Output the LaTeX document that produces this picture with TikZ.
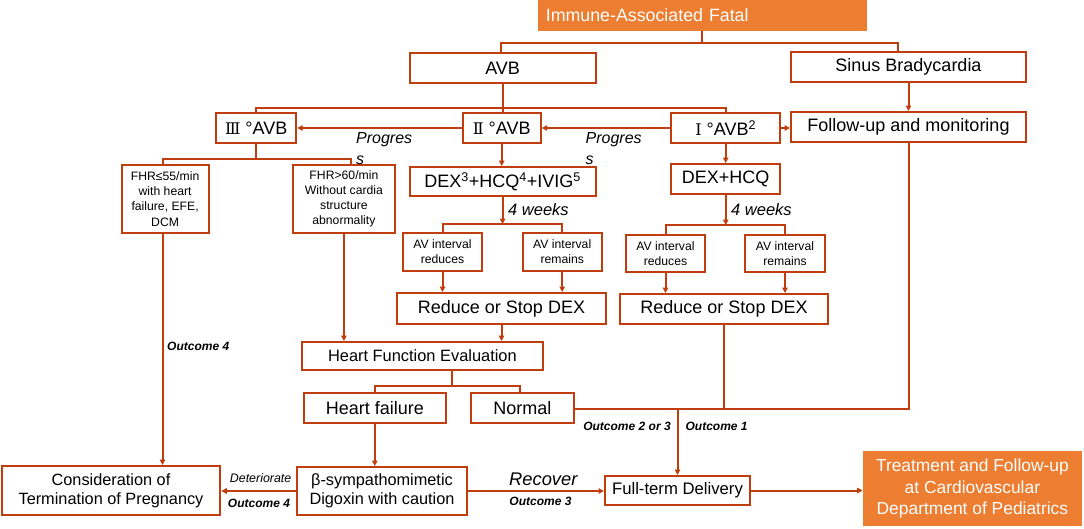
\documentclass[tikz,border=0pt]{standalone}
\usepackage{fontspec}
\setmainfont{Liberation Sans}
\newfontfamily\romfont{DejaVu Serif}
\usetikzlibrary{arrows.meta}
\definecolor{lc}{RGB}{192,62,14}
\definecolor{og}{RGB}{237,125,49}
\newcommand{\fs}[2]{\fontsize{#1}{#2}\selectfont}
\begin{document}
\begin{tikzpicture}[x=1pt,y=-1pt,
  box/.style={draw=lc, line width=2pt, fill=white, inner sep=0pt, align=center, font=\fs{18}{21}},
  sbox/.style={font=\fs{12.2}{15.2}},
  mbox/.style={font=\fs{16.3}{19}},
  obox/.style={fill=og, inner sep=0pt, align=center, text=white},
  ln/.style={draw=lc, line width=2pt},
  arr/.style={ln, -{Triangle[length=5.5pt,width=5.5pt]}},
  olab/.style={inner sep=0pt, font=\fs{12}{14}\bfseries\itshape},
  ilab/.style={inner sep=0pt, font=\fs{16}{21}\itshape, align=left}
]
\fill[white] (0,0) rectangle (1084,528);
\useasboundingbox (0,0) rectangle (1084,528);

% nodes
\node[obox, minimum width=329.4pt, minimum height=31pt, text width=313pt, align=left, font=\fs{17.8}{20}] (top) at (702.3,15) {Immune-Associated Fatal};
\node[box, minimum width=186pt, minimum height=30pt] (avb) at (502.6,68) {AVB};
\node[box, minimum width=235pt, minimum height=30pt] (sinus) at (908.5,67) {Sinus Bradycardia};
\node[box, minimum width=80pt, minimum height=30pt] (iii) at (256.2,128) {{\romfont\fs{16}{18}Ⅲ} °AVB};
\node[box, minimum width=78pt, minimum height=29.4pt] (ii) at (501.7,128) {{\romfont\fs{16}{18}Ⅱ} °AVB};
\node[box, minimum width=109.5pt, minimum height=30pt] (i) at (725.7,128) {{\romfont\fs{16}{18}Ⅰ} °AVB\textsuperscript{2}};
\node[box, minimum width=235pt, minimum height=30pt] (follow) at (908.5,127) {Follow-up and monitoring};
\node[box, sbox, minimum width=86.8pt, minimum height=68pt] (f55) at (165.1,199) {FHR≤55/min\\with heart\\failure, EFE,\\DCM};
\node[box, sbox, minimum width=102.2pt, minimum height=68pt] (f60) at (343.9,199) {FHR>60/min\\Without cardia\\structure\\abnormality};
\node[box, minimum width=186pt, minimum height=29pt] (dex3) at (502.6,181.5) {DEX\textsuperscript{3}+HCQ\textsuperscript{4}+IVIG\textsuperscript{5}};
\node[box, minimum width=109.5pt, minimum height=30pt] (dexh) at (725.7,179) {DEX+HCQ};
\node[box, sbox, minimum width=79.6pt, minimum height=37.7pt] (av1) at (442.5,252) {AV interval\\reduces};
\node[box, sbox, minimum width=79pt, minimum height=37.7pt] (av2) at (562.2,252) {AV interval\\remains};
\node[box, sbox, minimum width=79pt, minimum height=37.3pt] (av3) at (665.5,253.5) {AV interval\\reduces};
\node[box, sbox, minimum width=80pt, minimum height=37pt] (av4) at (785,253.5) {AV interval\\remains};
\node[box, minimum width=209pt, minimum height=31pt] (red1) at (501.5,308.5) {Reduce or Stop DEX};
\node[box, minimum width=208.4pt, minimum height=30pt] (red2) at (724,309) {Reduce or Stop DEX};
\node[box, font=\fs{16.4}{19}, minimum width=241.2pt, minimum height=28pt] (hfe) at (422.4,356) {Heart Function Evaluation};
\node[box, minimum width=142.5pt, minimum height=30pt] (hf) at (374.8,408) {Heart failure};
\node[box, minimum width=103.2pt, minimum height=30pt] (normal) at (522.4,408) {Normal};
\node[box, mbox, minimum width=218.5pt, minimum height=49pt] (cons) at (111,490.5) {Consideration of\\Termination of Pregnancy};
\node[box, mbox, minimum width=170.8pt, minimum height=48pt] (beta) at (382,491) {β-sympathomimetic\\Digoxin with caution};
\node[box, font=\fs{16.7}{19}, minimum width=145pt, minimum height=29pt] (full) at (677.5,490.5) {Full-term Delivery};
\node[obox, font=\fs{17.4}{21.7}, minimum width=219.2pt, minimum height=75pt] (treat) at (972.4,488.5) {Treatment and Follow-up\\at Cardiovascular\\Department of Pediatrics};

% labels
\node[ilab, anchor=west] (p1) at (356,148.5) {Progres\\s};
\node[ilab, anchor=west] (p2) at (585.5,148.5) {Progres\\s};
\node[ilab, anchor=west, font=\fs{16.5}{20}\itshape] (w1) at (508,210) {4 weeks};
\node[ilab, anchor=west, font=\fs{16.5}{20}\itshape] (w2) at (731,210) {4 weeks};
\node[olab, anchor=west] (o4a) at (167,346) {Outcome 4};
\node[inner sep=0pt, font=\fs{12.4}{14}\itshape] (det) at (260.6,478) {Deteriorate};
\node[olab] (o4b) at (259,503) {Outcome 4};
\node[inner sep=0pt, font=\fs{18.3}{21}\itshape] (rec) at (543.3,479.3) {Recover};
\node[olab] (o3) at (540.5,501.7) {Outcome 3};
\node[olab] (o23) at (627,426) {Outcome 2 or 3};
\node[olab] (o1) at (716.6,426) {Outcome 1};

% helper coordinates
\coordinate (jn) at ([yshift=-1pt]normal.east);
\coordinate (tb) at ([yshift=-12pt]top.south);
\coordinate (ab) at ([yshift=-24pt]avb.south);
\coordinate (tb3) at ([yshift=-15pt]iii.south);
\coordinate (db1) at ([yshift=-27pt]dex3.south);
\coordinate (db2) at ([yshift=-30pt]dexh.south);
\coordinate (hb) at ([xshift=29.4pt,yshift=-15pt]hfe.south);

% connectors
\draw[ln] (top.south) -- (tb);
\draw[ln] ([xshift=-2pt]avb.north) |- (tb) -| ([xshift=-10.5pt]sinus.north);
\draw[arr] (sinus) -- (follow);
\draw[ln] (avb.south) -- (avb.south |- ii.north);
\draw[ln] (iii.north) |- (ab) -| (i.north);
\draw[arr] (ii.west) -- (iii.east);
\draw[arr] (i.west) -- (ii.east);
\draw[arr] (i.east) -- (i.east -| follow.west);
\draw[ln] (iii.south) -- (tb3);
\draw[ln] ([xshift=-2.6pt]f55.north) |- (tb3) -| ([xshift=7.1pt]f60.north);
\draw[arr] (ii.south) -- (ii.south |- dex3.north);
\draw[arr] (i.south) -- (dexh.north);
\draw[arr] (dex3.south) -- (db1);
\draw[ln] (av1.north) |- (db1) -| (av2.north);
\draw[arr] (dexh.south) -- (db2);
\draw[ln] (av3.north) |- (db2) -| (av4.north);
\draw[arr] (av1.south) -- (av1.south |- red1.north);
\draw[arr] (av2.south) -- (av2.south |- red1.north);
\draw[arr] (av3.south) -- (av3.south |- red2.north);
\draw[arr] (av4.south) -- (av4.south |- red2.north);
\draw[arr] (red1.south) -- (red1.south |- hfe.north);
\draw[arr] (f60.south) -- (f60.south |- hfe.north);
\draw[ln] (hb |- hfe.south) -- (hb);
\draw[ln] (hf.north) |- (hb) -| ([xshift=-2pt]normal.north);
\draw[arr] (hf.south) -- (hf.south |- beta.north);
\draw[arr] ([xshift=-2.6pt]f55.south) -- ([xshift=-2.6pt]f55.south |- cons.north);
\draw[arr] (beta.west) -- (beta.west -| cons.east);
\draw[arr] (beta.east) -- (beta.east -| full.west);
\draw[ln] (jn) -| (follow.south);
\draw[ln] (red2.south) -- (red2.south |- jn);
\draw[arr] (full.north |- jn) -- (full.north);
\draw[arr] (full.east) -- (full.east -| treat.west);
\end{tikzpicture}
\end{document}
